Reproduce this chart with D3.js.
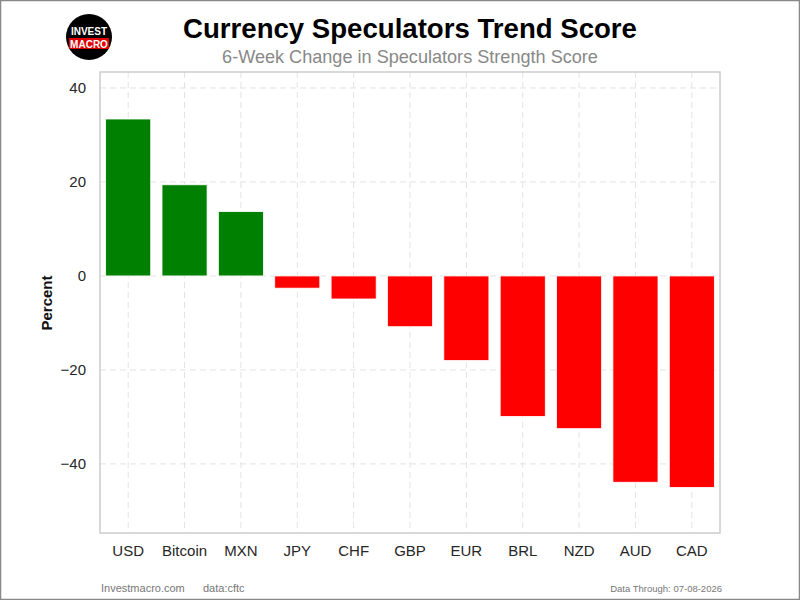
<!DOCTYPE html>
<html><head><meta charset="utf-8">
<script src="https://cdn.jsdelivr.net/npm/d3@7"></script>
<style>body{margin:0;background:#fff;}svg{display:block;font-family:"Liberation Sans",Arial,sans-serif;}</style>
</head><body>
<svg id="c" width="800" height="600"></svg>
<script>
const categories = ["USD","Bitcoin","MXN","JPY","CHF","GBP","EUR","BRL","NZD","AUD","CAD"];
const values = [33.4, 19.4, 13.7, -2.6, -4.9, -10.8, -18.0, -29.9, -32.5, -43.9, -45.0];
const yTicks = [-40, -20, 0, 20, 40];
const title = "Currency Speculators Trend Score";
const subtitle = "6-Week Change in Speculators Strength Score";

const svg = d3.select("#c");
const m = {left:100, right:720, top:72, bottom:533};

svg.append("rect").attr("x",0.5).attr("y",0.5).attr("width",799).attr("height",599)
  .attr("fill","#fff").attr("stroke","#888").attr("stroke-width",1.5);

const x = d3.scaleBand().domain(categories).range([m.left,m.right]).paddingInner(0.2).paddingOuter(0.1);
const y = d3.scaleLinear().domain([-54.7,43.4]).range([m.bottom,m.top]);

// grid
const g = svg.append("g");
g.selectAll(".gy").data(yTicks).join("line")
  .attr("x1",m.left).attr("x2",m.right).attr("y1",d=>y(d)).attr("y2",d=>y(d))
  .attr("stroke","#e3e3e3").attr("stroke-dasharray","6,4").attr("stroke-width",1);
g.selectAll(".gx").data(categories).join("line")
  .attr("x1",d=>x(d)+x.bandwidth()/2).attr("x2",d=>x(d)+x.bandwidth()/2)
  .attr("y1",m.top).attr("y2",m.bottom)
  .attr("stroke","#e3e3e3").attr("stroke-dasharray","6,4").attr("stroke-width",1);

// bars
svg.append("g").selectAll("rect").data(values).join("rect")
  .attr("x",(d,i)=>x(categories[i]))
  .attr("width",x.bandwidth())
  .attr("y",d=>y(Math.max(0,d)))
  .attr("height",d=>Math.abs(y(d)-y(0)))
  .attr("fill",d=>d>=0?"#008000":"#ff0000")
  .attr("stroke","#fff").attr("stroke-width",0.8);

// frame
svg.append("rect").attr("x",m.left).attr("y",m.top).attr("width",m.right-m.left).attr("height",m.bottom-m.top)
  .attr("fill","none").attr("stroke","#cccccc").attr("stroke-width",1.5);

// axes
const ya = svg.append("g").attr("transform",`translate(${m.left},0)`)
  .call(d3.axisLeft(y).tickValues(yTicks).tickSize(0).tickPadding(14).tickFormat(d=>d<0?"\u2212"+Math.abs(d):d));
ya.select(".domain").remove();
ya.selectAll("text").attr("font-size",15).attr("fill","#262626").attr("font-family","Liberation Sans, Arial, sans-serif");

const xa = svg.append("g").attr("transform",`translate(0,${m.bottom})`)
  .call(d3.axisBottom(x).tickSize(0).tickPadding(12));
xa.select(".domain").remove();
xa.selectAll("text").attr("font-size",15).attr("fill","#262626").attr("font-family","Liberation Sans, Arial, sans-serif");

svg.append("text").attr("transform","translate(52,303) rotate(-90)").attr("text-anchor","middle")
  .attr("font-size",15).attr("font-weight","bold").attr("fill","#111").text("Percent");

// titles
svg.append("text").attr("x",410).attr("y",38).attr("text-anchor","middle")
  .attr("font-size",27.6).attr("font-weight","bold").attr("fill","#000").text(title);
svg.append("text").attr("x",410).attr("y",63).attr("text-anchor","middle")
  .attr("font-size",18.1).attr("fill","#888").text(subtitle);

// logo
const lg = svg.append("g").attr("transform","translate(89,37)");
lg.append("circle").attr("r",23).attr("fill","#000");
lg.append("text").attr("y",-2).attr("text-anchor","middle").attr("font-size",10).attr("font-weight","bold").attr("fill","#fff").text("INVEST");
lg.append("rect").attr("x",-20).attr("y",1).attr("width",40).attr("height",11).attr("fill","#e00000");
lg.append("text").attr("y",10.5).attr("text-anchor","middle").attr("font-size",10).attr("font-weight","bold").attr("fill","#fff").text("MACRO");

// footer
svg.append("text").attr("x",101).attr("y",592).attr("font-size",11).attr("fill","#777").text("Investmacro.com");
svg.append("text").attr("x",203).attr("y",592).attr("font-size",11).attr("fill","#777").text("data:cftc");
svg.append("text").attr("x",722).attr("y",592).attr("text-anchor","end").attr("font-size",9.5).attr("fill","#777").text("Data Through: 07-08-2026");
</script>
</body></html>
